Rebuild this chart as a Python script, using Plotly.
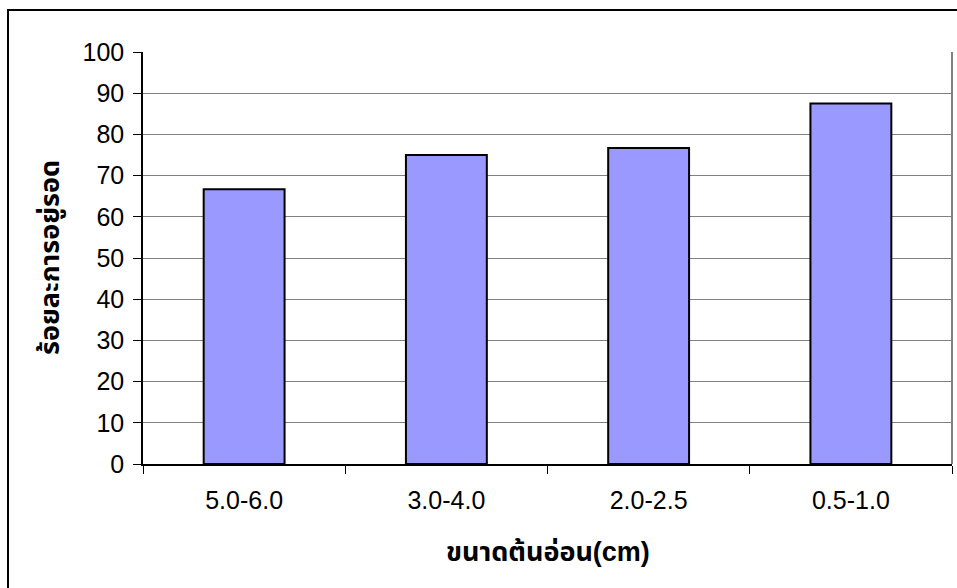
import plotly.graph_objects as go

# Seedling size classes and their survival percentages
size_classes = ["5.0-6.0", "3.0-4.0", "2.0-2.5", "0.5-1.0"]
survival_pct = [66.7, 75.0, 76.7, 87.5]
y_ticks = list(range(0, 101, 10))

W, H = 957, 588
L, R, T, B = 143, 5, 52, 124
plot_w = W - L - R
plot_h = H - T - B


def px_to_paper_x(px):
    return (px - L) / plot_w


def px_to_paper_y(py):
    return (H - B - py) / plot_h


fig = go.Figure(
    go.Bar(
        x=size_classes,
        y=survival_pct,
        marker=dict(color="#9999FF", line=dict(color="#000000", width=2)),
        hoverinfo="x+y",
    )
)

tick_font = dict(family="Liberation Sans, Arial, sans-serif", size=25, color="#000000")
title_font = dict(family="Liberation Sans, Arial, Noto Sans Thai, sans-serif", size=27, color="#000000")

fig.update_layout(
    width=W,
    height=H,
    margin=dict(l=L, r=R, t=T, b=B),
    paper_bgcolor="#FFFFFF",
    plot_bgcolor="#FFFFFF",
    bargap=0.6,
    showlegend=False,
    xaxis=dict(
        type="category",
        tickson="boundaries",
        ticks="outside",
        ticklen=8,
        tickwidth=1,
        tickcolor="#000000",
        showline=True,
        linecolor="#000000",
        linewidth=1.5,
        showgrid=False,
        tickfont=tick_font,
        ticklabelstandoff=13,
    ),
    yaxis=dict(
        range=[0, 100],
        tickvals=y_ticks,
        ticks="outside",
        ticklen=8,
        tickwidth=1,
        tickcolor="#000000",
        showline=True,
        linecolor="#000000",
        linewidth=1.5,
        showgrid=True,
        gridcolor="#808080",
        gridwidth=1,
        zeroline=False,
        tickfont=tick_font,
        ticklabelstandoff=4,
    ),
    shapes=[
        # outer chart frame
        dict(
            type="rect", xref="paper", yref="paper",
            x0=px_to_paper_x(8), x1=px_to_paper_x(W + 20),
            y0=px_to_paper_y(H + 20), y1=px_to_paper_y(10),
            line=dict(color="#000000", width=2), layer="below",
        ),
        # plot-area border on the right
        dict(
            type="line", xref="paper", yref="paper",
            x0=1, x1=1, y0=0, y1=1,
            line=dict(color="#808080", width=2),
        ),
    ],
    annotations=[
        dict(
            text="<b>ขนาดต้นอ่อน(cm)</b>", xref="paper", yref="paper",
            x=0.5, y=px_to_paper_y(552), xanchor="center", yanchor="middle",
            showarrow=False, font=title_font,
        ),
        dict(
            text="<b>ร้อยละการอยู่รอด</b>", xref="paper", yref="paper",
            x=px_to_paper_x(50), y=px_to_paper_y(258), xanchor="center", yanchor="middle",
            textangle=-90, showarrow=False, font=title_font,
        ),
    ],
)

fig.write_html("out.html")
